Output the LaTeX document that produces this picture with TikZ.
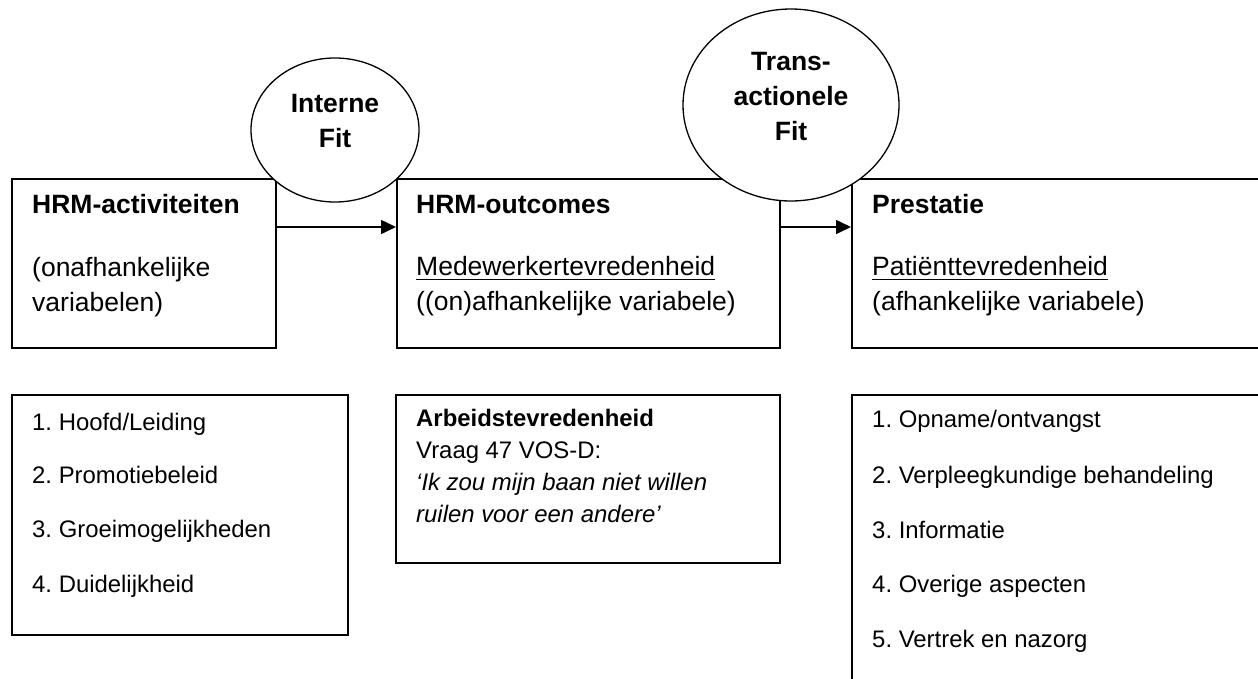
\documentclass[tikz,border=0pt]{standalone}
\usepackage{fontspec}
\setmainfont{Liberation Sans}
\usetikzlibrary{shapes.geometric,arrows.meta}
\frenchspacing

\begin{document}
\begin{tikzpicture}[x=1pt,y=-1pt,
  box/.style={draw,line width=1.6pt,rectangle,anchor=north west,inner sep=0pt},
  fitring/.style={draw,ellipse,fill=white,line width=1.3pt,inner sep=0pt},
  txt/.style={anchor=base west,inner sep=0pt,font=\fontsize{26.5}{35}\selectfont\frenchspacing},
  btxt/.style={txt,font=\fontsize{26.5}{35}\selectfont\bfseries\frenchspacing},
  stxt/.style={anchor=base west,inner sep=0pt,font=\fontsize{23.9}{32}\selectfont\frenchspacing},
  sbtxt/.style={stxt,font=\fontsize{23.9}{32}\selectfont\bfseries\frenchspacing},
  sitxt/.style={stxt,font=\fontsize{23.9}{32}\selectfont\itshape\frenchspacing},
  ctxt/.style={anchor=base,inner sep=0pt,font=\fontsize{26.5}{35}\selectfont\bfseries},
  uline/.style={line width=1.8pt},
  link/.style={line width=1.6pt,-{Triangle[length=15pt,width=14pt]}}
]
\useasboundingbox (0,0) rectangle (1258,678);

% top row: the three main blocks
\node[box,minimum width=264pt,minimum height=169pt] (act) at (11,178) {};
\node[box,minimum width=383pt,minimum height=169pt] (out) at (396,178) {};
\node[box,minimum width=420pt,minimum height=169pt] (pre) at (851,178) {};

% bottom row: operationalisations
\node[box,minimum width=336pt,minimum height=240pt] (dim) at (11,394) {};
\node[box,minimum width=384pt,minimum height=168pt] (arb) at (395,394) {};
\node[box,minimum width=420pt,minimum height=400pt] (asp) at (851,394) {};

% fit ellipses drawn over the block edges
\node[fitring,minimum width=168pt,minimum height=144pt] (ifit) at (335,130) {};
\node[fitring,minimum width=216pt,minimum height=192pt] (tfit) at (791,105) {};

% connectors
\draw[link] ([yshift=-49pt]act.north east) -- ([yshift=-49pt]out.north west);
\draw[link] ([yshift=-49pt]out.north east) -- ([yshift=-49pt]pre.north west);

% block texts
\node[btxt] (t1a) at (32,213) {HRM-activiteiten};
\node[txt]  (t1b) at (32,276) {(onafhankelijke};
\node[txt]  (t1c) at (32,311) {variabelen)};

\node[btxt] (t2a) at (416,213) {HRM-outcomes};
\node[txt]  (t2b) at (416,275) {Medewerkertevredenheid};
\draw[uline] ([yshift=-4.5pt]t2b.base west) -- ([yshift=-4.5pt]t2b.base east);
\node[txt]  (t2c) at (416,310) {((on)afhankelijke variabele)};

\node[btxt] (t3a) at (872,213) {Prestatie};
\node[txt]  (t3b) at (872,275) {Patiënttevredenheid};
\draw[uline] ([yshift=-4.5pt]t3b.base west) -- ([yshift=-4.5pt]t3b.base east);
\node[txt]  (t3c) at (872,310) {(afhankelijke variabele)};

% ellipse texts
\node[ctxt] (i1) at (335,112) {Interne};
\node[ctxt] (i2) at (335,147) {Fit};
\node[ctxt] (f1) at (791,70) {Trans-};
\node[ctxt] (f2) at (791,105) {actionele};
\node[ctxt] (f3) at (791,140) {Fit};

% lists
\node[stxt] (d1) at (32,430) {1. Hoofd/Leiding};
\node[stxt] (d2) at (32,483) {2. Promotiebeleid};
\node[stxt] (d3) at (32,537) {3. Groeimogelijkheden};
\node[stxt] (d4) at (32,592) {4. Duidelijkheid};

\node[sbtxt] (a1) at (416,426) {Arbeidstevredenheid};
\node[stxt]  (a2) at (416,458) {Vraag 47 VOS-D:};
\node[sitxt] (a3) at (416,490) {‘Ik zou mijn baan niet willen};
\node[sitxt] (a4) at (416,522) {ruilen voor een andere’};

\node[stxt] (p1) at (872,427) {1. Opname/ontvangst};
\node[stxt] (p2) at (872,483) {2. Verpleegkundige behandeling};
\node[stxt] (p3) at (872,538) {3. Informatie};
\node[stxt] (p4) at (872,592) {4. Overige aspecten};
\node[stxt] (p5) at (872,647) {5. Vertrek en nazorg};
\end{tikzpicture}
\end{document}
